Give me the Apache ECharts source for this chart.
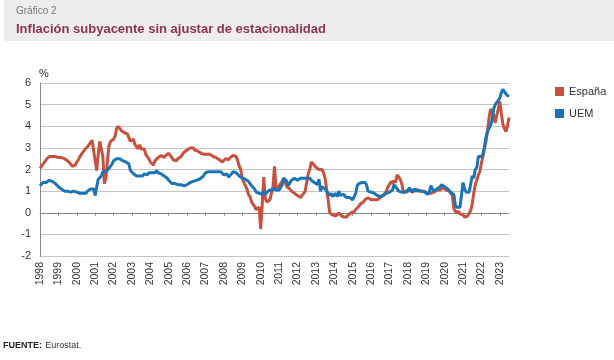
<!DOCTYPE html>
<html><head><meta charset="utf-8">
<script src="https://cdn.jsdelivr.net/npm/echarts@6/dist/echarts.min.js"></script>
<style>
html,body{margin:0;padding:0;background:#fff;}
#c{width:614px;height:360px;}
</style></head>
<body><div id="c"></div>
<script>
// Monthly data, Jan 1998 .. Jul 2023
const startYear = 1998;
const yTicks = [-2,-1,0,1,2,3,4,5,6];
const seriesNames = ['España','UEM'];
const espana = [
/*1998*/ 2.05,2.15,2.25,2.35,2.45,2.5,2.6,2.65,2.6,2.55,2.6,2.55,
/*1999*/ 2.55,2.6,2.55,2.6,2.5,2.45,2.4,2.35,2.25,2.15,2.1,2.2,
/*2000*/ 2.35,2.45,2.6,2.7,2.8,2.9,2.95,3.05,3.15,3.2,3.35,3.3,
/*2001*/ 2.4,1.95,2.7,3.3,3.3,2.6,1.35,1.6,2.4,3.1,3.3,3.35,
/*2002*/ 3.4,3.55,3.9,4.0,3.9,3.8,3.75,3.7,3.75,3.65,3.6,3.3,
/*2003*/ 3.35,3.4,3.15,3.1,2.95,3.15,2.95,2.9,2.95,2.7,2.6,2.5,
/*2004*/ 2.35,2.3,2.2,2.4,2.45,2.55,2.5,2.65,2.6,2.55,2.65,2.6,
/*2005*/ 2.75,2.7,2.55,2.45,2.5,2.4,2.5,2.45,2.6,2.7,2.8,2.75,
/*2006*/ 2.9,2.85,3.0,2.95,3.0,2.9,2.95,2.85,2.85,2.75,2.75,2.7,
/*2007*/ 2.75,2.7,2.75,2.7,2.65,2.6,2.6,2.55,2.5,2.45,2.4,2.35,
/*2008*/ 2.3,2.5,2.55,2.45,2.55,2.6,2.65,2.7,2.6,2.4,2.15,2.0,
/*2009*/ 1.6,1.4,1.25,1.1,0.85,0.75,0.5,0.45,0.3,0.15,0.1,0.25,
/*2010*/ -0.75,0.4,1.65,0.65,0.5,0.55,0.6,0.6,1.2,2.15,1.1,1.05,
/*2011*/ 1.25,1.3,1.45,1.6,1.4,1.2,1.15,1.1,1.0,0.95,0.9,0.95,
/*2012*/ 0.8,0.75,0.7,0.8,0.9,1.0,1.4,1.8,2.0,2.35,2.3,2.2,
/*2013*/ 2.1,2.15,2.0,2.05,2.0,1.85,1.6,1.1,0.6,0.0,-0.05,-0.1,
/*2014*/ -0.05,-0.15,-0.1,0.0,-0.1,-0.15,-0.2,-0.15,-0.2,-0.1,-0.05,0.0,
/*2015*/ -0.05,0.05,0.15,0.2,0.3,0.4,0.45,0.5,0.6,0.65,0.7,0.65,
/*2016*/ 0.6,0.65,0.6,0.55,0.6,0.65,0.7,0.7,0.8,0.85,1.0,1.2,
/*2017*/ 1.3,1.45,1.35,1.5,1.4,1.75,1.7,1.55,1.35,1.0,0.95,0.95,
/*2018*/ 1.0,1.05,1.0,0.95,1.0,1.1,1.05,1.0,0.95,1.0,0.95,1.0,
/*2019*/ 0.95,0.9,0.85,0.9,0.85,0.95,0.95,1.05,1.1,1.05,1.1,1.15,
/*2020*/ 1.1,1.05,1.1,1.0,0.95,0.8,0.2,0.05,0.0,0.05,-0.05,-0.05,
/*2021*/ -0.1,-0.2,-0.25,-0.15,-0.1,0.1,0.4,0.9,1.3,1.5,1.75,1.9,
/*2022*/ 2.3,2.6,3.0,3.3,3.8,4.4,4.8,4.8,4.5,4.15,4.5,4.8,
/*2023*/ 5.15,4.6,4.1,3.9,3.75,4.0,4.4
];
const uem = [
/*1998*/ 1.25,1.3,1.4,1.45,1.4,1.45,1.5,1.5,1.45,1.4,1.35,1.3,
/*1999*/ 1.2,1.15,1.1,1.05,1.0,0.95,1.0,0.95,0.95,1.0,1.0,1.05,
/*2000*/ 0.95,0.9,0.9,0.95,0.9,0.95,0.9,1.0,1.05,1.1,1.15,1.1,
/*2001*/ 0.8,1.2,1.55,1.6,1.7,1.9,1.85,1.9,1.95,2.05,2.15,2.25,
/*2002*/ 2.4,2.45,2.5,2.55,2.5,2.45,2.4,2.4,2.35,2.3,2.25,1.95,
/*2003*/ 1.9,1.8,1.85,1.7,1.75,1.7,1.75,1.7,1.8,1.85,1.75,1.85,
/*2004*/ 1.9,1.85,1.9,1.85,1.95,1.85,1.9,1.8,1.8,1.7,1.7,1.6,
/*2005*/ 1.5,1.45,1.35,1.4,1.35,1.4,1.3,1.35,1.3,1.35,1.25,1.3,
/*2006*/ 1.3,1.35,1.4,1.45,1.45,1.5,1.5,1.55,1.55,1.6,1.65,1.7,
/*2007*/ 1.85,1.9,1.9,1.95,1.9,1.9,1.9,1.85,1.9,1.85,1.9,1.85,
/*2008*/ 1.75,1.7,1.8,1.65,1.7,1.8,1.9,1.85,1.85,1.8,1.7,1.65,
/*2009*/ 1.6,1.65,1.55,1.55,1.45,1.35,1.25,1.2,1.1,0.95,0.9,0.9,
/*2010*/ 0.9,0.85,1.0,0.85,0.95,0.95,1.05,1.0,1.05,1.15,1.05,1.05,
/*2011*/ 1.05,1.1,1.3,1.6,1.55,1.45,1.25,1.3,1.5,1.55,1.6,1.55,
/*2012*/ 1.5,1.55,1.6,1.6,1.6,1.65,1.6,1.65,1.6,1.5,1.45,1.4,
/*2013*/ 1.35,1.3,1.55,1.0,1.2,1.15,1.1,1.0,0.95,0.8,0.9,0.75,
/*2014*/ 0.75,0.9,0.75,1.0,0.8,0.75,0.85,0.8,0.7,0.7,0.7,0.65,
/*2015*/ 0.6,0.65,0.9,1.25,1.35,1.4,1.4,1.45,1.4,1.3,1.0,0.95,
/*2016*/ 0.95,0.9,0.9,0.85,0.8,0.75,0.75,0.75,0.8,0.85,0.9,0.9,
/*2017*/ 0.95,1.0,1.05,1.3,1.25,1.1,1.0,1.05,0.95,0.9,0.95,0.9,
/*2018*/ 1.05,1.15,1.1,0.95,1.1,1.0,1.05,1.05,1.0,1.0,1.0,0.95,
/*2019*/ 0.9,0.85,0.95,1.25,1.1,1.0,1.05,1.1,1.1,1.2,1.3,1.25,
/*2020*/ 1.2,1.25,1.1,1.05,0.95,0.9,0.85,0.35,0.25,0.2,0.25,0.2,
/*2021*/ 1.4,1.1,0.95,0.9,0.95,0.9,1.7,1.6,2.0,2.1,2.6,2.65,
/*2022*/ 2.6,2.7,3.05,3.5,3.75,3.8,4.05,4.3,4.8,5.0,5.0,5.2,
/*2023*/ 5.3,5.55,5.7,5.65,5.5,5.4,5.45
];
const categories = [];
for (let i = 0; i < espana.length; i++) {
  const y = startYear + Math.floor(i / 12), m = i % 12 + 1;
  categories.push(y + '-' + (m < 10 ? '0' + m : m));
}
const FONT = 'Liberation Sans, Arial, sans-serif';
const chart = echarts.init(document.getElementById('c'), null, {renderer: 'canvas'});
chart.setOption({
  animation: false,
  backgroundColor: '#ffffff',
  graphic: [
    {type: 'rect', left: 4, top: 0, shape: {width: 610, height: 41}, style: {fill: '#efeced'}, z: -10},
    {type: 'text', left: 16, top: 6, style: {text: 'Gráfico 2', font: '10px ' + FONT, fill: '#7a7a7a'}},
    {type: 'text', left: 16, top: 23, style: {text: 'Inflación subyacente sin ajustar de estacionalidad', font: 'bold 13px ' + FONT, fill: '#8c3550'}},
    {type: 'text', left: 39, top: 68, style: {text: '%', font: '11px ' + FONT, fill: '#333'}},
    {type: 'text', left: 3, top: 340, style: {rich: {b: {font: 'bold 9px ' + FONT, fill: '#222'}, n: {font: '9px ' + FONT, fill: '#333'}}, text: '{b|FUENTE:} {n|Eurostat.}'}}
  ],
  legend: {
    orient: 'vertical', left: 550, top: 81, itemWidth: 9, itemHeight: 9, itemGap: 11,
    icon: 'rect', textStyle: {fontFamily: FONT, fontSize: 11, color: '#333'},
    data: seriesNames
  },
  grid: {left: 40, right: 105, top: 83, bottom: 104},
  xAxis: {
    type: 'category', data: categories, boundaryGap: false,
    axisLine: {lineStyle: {color: '#888', width: 1}},
    axisTick: {interval: (i) => i % 12 === 0, length: 3, lineStyle: {color: '#888'}},
    axisLabel: {interval: (i) => i % 12 === 0, rotate: 90, formatter: (v) => v.slice(0, 4),
      fontFamily: FONT, fontSize: 10.5, color: '#333', margin: 6},
    splitLine: {show: false}
  },
  yAxis: {
    type: 'value', min: yTicks[0], max: yTicks[yTicks.length - 1], interval: 1,
    axisLine: {show: true, lineStyle: {color: '#888', width: 1}},
    axisTick: {show: false},
    axisLabel: {fontFamily: FONT, fontSize: 11, color: '#333', margin: 9},
    splitLine: {lineStyle: {color: '#c4c4c4', width: 1}}
  },
  series: [
    {name: seriesNames[0], type: 'line', data: espana, showSymbol: false, symbol: 'none',
     lineStyle: {color: '#c8503e', width: 3}, itemStyle: {color: '#c8503e'}},
    {name: seriesNames[1], type: 'line', data: uem, showSymbol: false, symbol: 'none',
     lineStyle: {color: '#1a74b6', width: 3}, itemStyle: {color: '#1a74b6'}}
  ]
});
</script></body></html>
